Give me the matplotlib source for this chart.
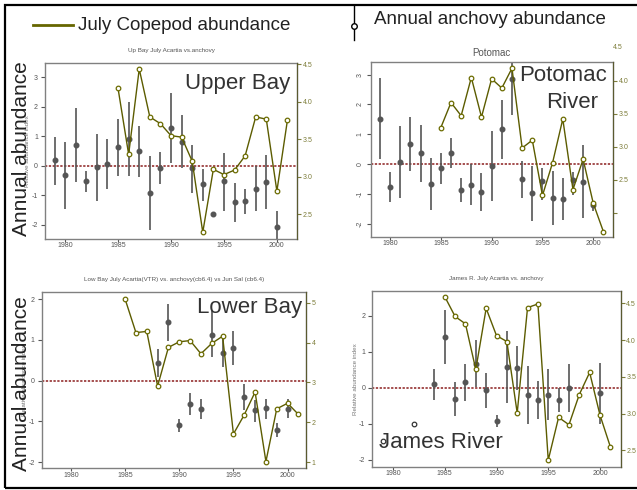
import matplotlib
matplotlib.use("Agg")
import matplotlib.pyplot as plt
from matplotlib.lines import Line2D
from matplotlib.patches import Rectangle

plt.rcParams['font.family'] = ['Liberation Sans', 'DejaVu Sans']

# ---- data ----
ub_years = list(range(1979, 2001))
ub_anch = [0.19, -0.32, 0.70, -0.52, -0.03, 0.06, 0.64, 0.89, 0.51, -0.92, -0.09,
           1.29, 0.82, -0.08, -0.63, -1.65, -0.52, -1.24, -1.20, -0.77, -0.54, -2.07]
ub_lo = [-0.66, -1.45, -0.54, -0.88, -1.19, -0.80, -0.34, -0.34, -0.37, -2.16, -0.63,
         0.08, -0.07, -0.92, -1.19, -1.73, -1.53, -1.90, -1.62, -1.54, -1.48, -2.60]
ub_hi = [0.98, 0.79, 1.94, -0.18, 1.08, 0.89, 1.58, 2.15, 1.36, 0.33, 0.45,
         2.47, 1.72, 0.72, -0.12, -1.58, 0.42, -0.60, -0.79, 0.00, 0.36, -1.54]
ub_cop_years = list(range(1985, 2002))
ub_cop = [4.18, 3.30, 4.44, 3.80, 3.71, 3.55, 3.53, 3.21, 2.26, 3.10, 3.03, 3.09,
          3.28, 3.80, 3.77, 2.81, 3.76]

po_years = list(range(1979, 2001))
po_anch = [1.52, -0.76, 0.07, 0.68, 0.37, -0.66, -0.13, 0.37, -0.88, -0.69, -0.93,
           -0.06, 1.18, 2.84, -0.50, -0.98, -0.56, -1.14, -1.16, -0.54, -0.59, -1.38]
po_lo = [0.16, -1.26, -1.15, -0.22, -0.59, -1.56, -0.68, -0.14, -1.29, -1.38, -1.59,
         -1.25, 0.17, 1.63, -1.13, -1.90, -1.20, -2.06, -1.88, -1.04, -1.82, -1.59]
po_hi = [2.87, -0.28, 1.27, 1.56, 1.29, 0.20, 0.36, 0.87, -0.48, 0.00, -0.31,
         1.11, 2.16, 3.50, 0.11, -0.07, -0.14, -0.23, -0.48, -0.26, 0.64, -1.23]
po_cop_years = list(range(1985, 2002))
po_cop = [3.29, 3.67, 3.47, 4.05, 3.45, 4.03, 3.89, 4.19, 2.98, 3.10, 2.26, 2.76,
          3.42, 2.35, 2.81, 2.14, 1.71]

lb_years = list(range(1988, 2001))
lb_anch = [0.44, 1.43, -1.08, -0.56, -0.70, 1.13, 0.67, 0.80, -0.39, -0.72, -0.67, -1.21, -0.69]
lb_lo = [0.10, 0.98, -1.25, -0.85, -0.95, 0.57, 0.33, 0.38, -0.72, -1.02, -0.93, -1.39, -0.92]
lb_hi = [0.78, 1.89, -0.93, -0.29, -0.45, 1.72, 1.02, 1.22, -0.07, -0.48, -0.45, -1.05, -0.46]
lb_cop_years = list(range(1985, 2002))
lb_cop = [5.09, 4.25, 4.28, 2.91, 3.88, 4.02, 4.05, 3.72, 3.98, 4.16, 1.71, 2.19,
          2.76, 1.02, 2.34, 2.48, 2.20]

jr_years = [1984, 1985, 1986, 1987, 1988, 1989, 1990, 1991, 1992, 1993, 1994, 1995, 1996, 1997, 2000]
jr_anch = [0.09, 1.42, -0.32, 0.15, 0.67, -0.06, -0.91, 0.58, 0.56, -0.20, -0.33, -0.19, -0.33, 0.00, -0.14]
jr_lo = [-0.33, 0.67, -0.78, -0.37, 0.02, -0.56, -1.10, -0.43, -0.06, -1.00, -0.87, -0.89, -0.68, -0.68, -1.00]
jr_hi = [0.51, 2.16, 0.15, 0.65, 1.32, 0.42, -0.75, 1.56, 1.15, 0.60, 0.19, 0.52, 0.00, 0.66, 0.68]
jr_open_years = [1979, 1982]
jr_open = [-1.48, -1.01]
jr_cop_years = list(range(1985, 2002))
jr_cop = [4.59, 4.32, 4.22, 3.60, 4.43, 4.06, 3.98, 3.01, 4.44, 4.49, 2.37, 2.95,
          2.85, 3.26, 3.56, 2.98, 2.55]

year_ticks = [1980, 1985, 1990, 1995, 2000]
left_ticks_3 = [-2, -1, 0, 1, 2, 3]
left_ticks_2 = [-2, -1, 0, 1, 2]

W, H = 637, 490
OLIVE = '#5c5c00'
OLIVE_TXT = '#7d7d3a'
GRAY = '#555555'
SPINE = '#808080'


def fx(px):
    return px / W


def fy(py):
    return 1 - py / H


def box(x0, y0, x1, y1):
    return [fx(x0), fy(y1), (x1 - x0) / W, (y1 - y0) / H]


def panel(rect, years, anch, lo, hi, cyears, cop, xlim, ylim, ylim2, lticks,
          title, tsize, tpad, rticks, rlabels, ylabel=True, rot_left=False):
    ax = fig.add_axes(rect)
    ax.axhline(0, color='#8b1e1e', lw=1.1, ls=(0, (1.5, 1)), zorder=1)
    ax.vlines(years, lo, hi, color=GRAY, lw=1.2, zorder=2)
    ax.plot(years, anch, 'o', color=GRAY, ms=3.3, zorder=3)
    ax.set_xlim(*xlim)
    ax.set_ylim(*ylim)
    ax.set_xticks(year_ticks)
    ax.set_yticks(lticks)
    ax.set_yticklabels([str(t) for t in lticks])
    ax.tick_params(axis='x', length=2, pad=0.5, labelsize=5, colors=GRAY)
    ax.tick_params(axis='y', length=3, pad=2, labelsize=5, colors=GRAY)
    if rot_left:
        for t in ax.get_yticklabels():
            t.set_rotation(90)
            t.set_va('center')
    for s in ax.spines.values():
        s.set_color(SPINE)
        s.set_linewidth(1.0)
    ax.set_title(title, fontsize=tsize, color='#555555', pad=tpad)
    if ylabel:
        ax.set_ylabel('Relative abundance index', fontsize=4.5, color='#777777', labelpad=1)

    ax2 = ax.twinx()
    ax2.plot(cyears, cop, '-o', color=OLIVE, lw=1.0, ms=3.3, mfc='white',
             mec='#6b6b00', mew=0.9, zorder=4)
    ax2.set_ylim(*ylim2)
    ax2.set_yticks(rticks)
    ax2.set_yticklabels(rlabels)
    ax2.tick_params(axis='y', length=3, pad=1, labelsize=5, colors=OLIVE_TXT)
    for s in ax2.spines.values():
        s.set_visible(False)
    ax2.spines['right'].set_visible(True)
    ax2.spines['right'].set_color('#5a5a30')
    return ax, ax2


fig = plt.figure(figsize=(W / 100, H / 100), dpi=100)

# upper bay
panel(box(45, 63, 297, 239), ub_years, ub_anch, ub_lo, ub_hi, ub_cop_years, ub_cop,
      (1978.1, 2001.9), (-2.48, 3.48), (2.17, 4.52), left_ticks_3,
      'Up Bay July Acartia vs.anchovy', 4.5, 8,
      [2.5, 3.0, 3.5, 4.0, 4.5], ['2.5', '3.0', '3.5', '4.0', '4.5'])

# potomac
ax, ax2 = panel(box(370.7, 61.7, 613, 237), po_years, po_anch, po_lo, po_hi,
                po_cop_years, po_cop, (1978.1, 2001.94), (-2.45, 3.43), (1.63, 4.29),
                left_ticks_3, 'Potomac', 7, 4,
                [2.0, 2.5, 3.0, 3.5, 4.0], ['', '2.5', '3.0', '3.5', '4.0'],
                ylabel=False, rot_left=True)
ax2.text(1.0, 4.5, '4.5', transform=ax2.get_yaxis_transform(), fontsize=5,
         color=OLIVE_TXT, ha='left', va='center', clip_on=False)

# lower bay
panel(box(41.7, 292.3, 306, 468.3), lb_years, lb_anch, lb_lo, lb_hi, lb_cop_years, lb_cop,
      (1977.3, 2001.7), (-2.15, 2.17), (0.85, 5.26), left_ticks_2,
      'Low Bay July Acartia(VTR) vs. anchovy(cb6.4) vs Jun Sal (cb6.4)', 4.5, 8,
      [1, 2, 3, 4, 5], ['1', '2', '3', '4', '5'])

# james river
ax, ax2 = panel(box(372.3, 290.7, 620.7, 466.7), jr_years, jr_anch, jr_lo, jr_hi,
                jr_cop_years, jr_cop, (1978.0, 2002.0), (-2.19, 2.69), (2.28, 4.67),
                left_ticks_2, 'James R. July Acartia vs. anchovy', 4.5, 8,
                [2.5, 3.0, 3.5, 4.0, 4.5], ['2.5', '3.0', '3.5', '4.0', '4.5'])
ax.plot(jr_open_years, jr_open, 'o', ms=3.3, mfc='white', mec='#333333', mew=0.9, zorder=3)

# big region labels
big = dict(fontsize=16, color='#333333', va='center')
fig.text(fx(290), fy(83), 'Upper Bay', ha='right', **big)
fig.text(fx(607), fy(75), 'Potomac', ha='right', **big)
fig.text(fx(598), fy(102), 'River', ha='right', **big)
fig.text(fx(301.7), fy(307), 'Lower Bay', ha='right', **big)
fig.text(fx(379.3), fy(442), 'James River', ha='left', **big)

fig.text(fx(22), fy(149), 'Annual abundance', rotation=90, fontsize=15,
         color='#222222', ha='center', va='center')
fig.text(fx(22), fy(384), 'Annual abundance', rotation=90, fontsize=15,
         color='#222222', ha='center', va='center')

# legend at the top
fig.add_artist(Line2D([fx(33), fx(73)], [fy(25), fy(25)], color='#666600', lw=2,
                      transform=fig.transFigure))
fig.text(fx(78), fy(25), 'July Copepod abundance', fontsize=13.5, color='#222222',
         ha='left', va='center')
fig.add_artist(Line2D([fx(354), fx(354)], [fy(5), fy(40)], color='black', lw=1.0,
                      transform=fig.transFigure))
fig.add_artist(Line2D([fx(354)], [fy(26)], marker='o', ms=4, mfc='white', mec='black',
                      mew=1.0, transform=fig.transFigure))
fig.text(fx(374), fy(20), 'Annual anchovy abundance', fontsize=13.5, color='#222222',
         ha='left', va='center')

# outer frame
fig.add_artist(Rectangle((fx(5), fy(488)), (W + 10) / W, (488 - 5) / H, fill=False,
                         ec='black', lw=1.6, transform=fig.transFigure))

fig.savefig('out.png', dpi=100)
